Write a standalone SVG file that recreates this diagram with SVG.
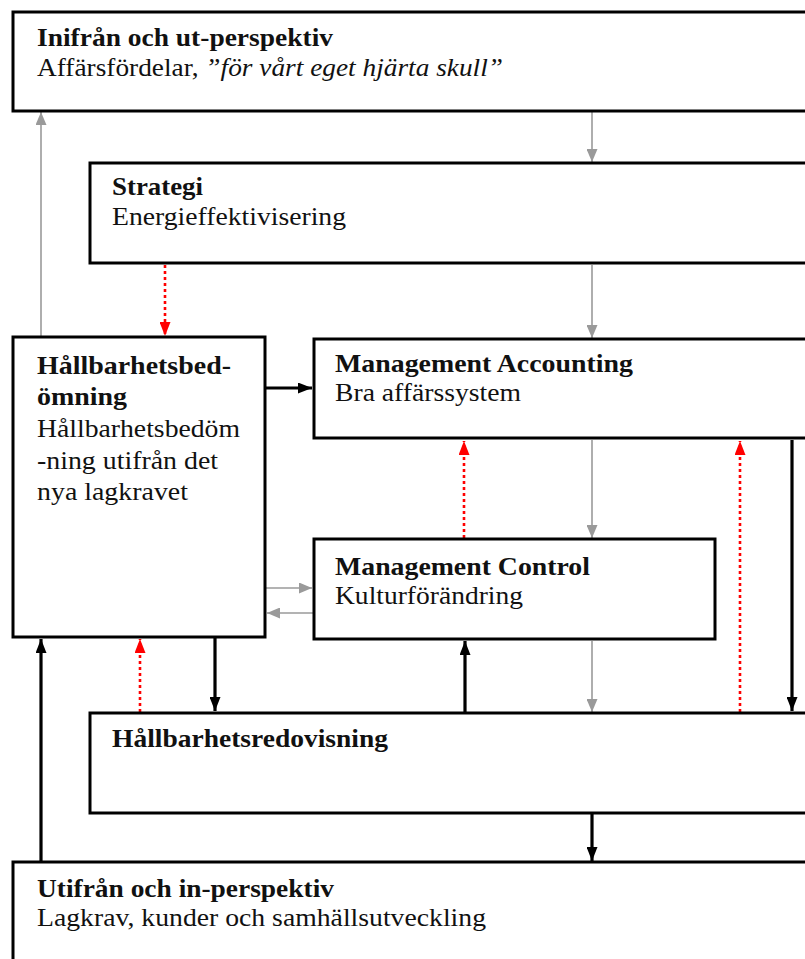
<svg xmlns="http://www.w3.org/2000/svg" width="805" height="959" viewBox="0 0 805 959">
<style>
.box{fill:#fff;stroke:#000;stroke-width:3}
.t{font-family:"Liberation Serif","Times New Roman",serif;font-size:25.5px;fill:#111}
.b{font-weight:bold}
.gray{stroke:#9a9a9a;stroke-width:1.6;fill:none;marker-end:url(#ag)}
.blk{stroke:#000;stroke-width:3.2;fill:none;marker-end:url(#ab)}
.red{stroke:#ff0000;stroke-width:2.6;fill:none;stroke-dasharray:3 3;marker-end:url(#ar)}
</style>
<defs>
<marker id="ag" viewBox="0 0 13 11" refX="13" refY="5.5" markerWidth="13" markerHeight="11" markerUnits="userSpaceOnUse" orient="auto"><path d="M0,0 L13,5.5 L0,11 z" fill="#9a9a9a"/></marker>
<marker id="ab" viewBox="0 0 14 11" refX="14" refY="5.5" markerWidth="14" markerHeight="11" markerUnits="userSpaceOnUse" orient="auto"><path d="M0,0 L14,5.5 L0,11 z" fill="#000"/></marker>
<marker id="ar" viewBox="0 0 14 11" refX="14" refY="5.5" markerWidth="14" markerHeight="11" markerUnits="userSpaceOnUse" orient="auto"><path d="M0,0 L14,5.5 L0,11 z" fill="#ff0000"/></marker>
</defs>
<rect width="805" height="959" fill="#fff"/>

<g id="connectors">
<line class="gray" x1="592" y1="112" x2="592" y2="162"/>
<line class="gray" x1="41" y1="336" x2="41" y2="112"/>
<line class="red" x1="165" y1="265" x2="165" y2="336"/>
<line class="gray" x1="592" y1="265" x2="592" y2="338"/>
<line class="blk" x1="266" y1="388" x2="312" y2="388"/>
<line class="gray" x1="266" y1="588" x2="312" y2="588"/>
<line class="gray" x1="313" y1="613" x2="267" y2="613"/>
<line class="red" x1="464" y1="538" x2="464" y2="441"/>
<line class="gray" x1="592" y1="440" x2="592" y2="538"/>
<line class="red" x1="740" y1="712" x2="740" y2="441"/>
<line class="blk" x1="792" y1="440" x2="792" y2="711"/>
<line class="blk" x1="41" y1="862" x2="41" y2="639"/>
<line class="red" x1="140" y1="712" x2="140" y2="639"/>
<line class="blk" x1="215" y1="638" x2="215" y2="711"/>
<line class="blk" x1="465" y1="712" x2="465" y2="641"/>
<line class="gray" x1="592" y1="641" x2="592" y2="712"/>
<line class="blk" x1="592" y1="814" x2="592" y2="861"/>
</g>

<g id="inifran">
<rect class="box" x="13" y="12" width="810" height="99"/>
<text class="t b" x="37" y="46" textLength="296" lengthAdjust="spacingAndGlyphs">Inifrån och ut-perspektiv</text>
<text class="t" x="37" y="76" textLength="466" lengthAdjust="spacingAndGlyphs">Affärsfördelar, <tspan font-style="italic">”för vårt eget hjärta skull”</tspan></text>
</g>

<g id="strategi">
<rect class="box" x="90" y="163" width="730" height="100"/>
<text class="t b" x="112" y="195" textLength="91" lengthAdjust="spacingAndGlyphs">Strategi</text>
<text class="t" x="112" y="225" textLength="234" lengthAdjust="spacingAndGlyphs">Energieffektivisering</text>
</g>

<g id="hallbarhetsbedomning">
<rect class="box" x="13" y="337" width="252" height="300"/>
<text class="t b" x="37" y="374" textLength="194" lengthAdjust="spacingAndGlyphs">Hållbarhetsbed-</text>
<text class="t b" x="37" y="405" textLength="90" lengthAdjust="spacingAndGlyphs">ömning</text>
<text class="t" x="37" y="437" textLength="203" lengthAdjust="spacingAndGlyphs">Hållbarhetsbedöm</text>
<text class="t" x="37" y="469" textLength="181" lengthAdjust="spacingAndGlyphs">-ning utifrån det</text>
<text class="t" x="37" y="500" textLength="151" lengthAdjust="spacingAndGlyphs">nya lagkravet</text>
</g>

<g id="management-accounting">
<rect class="box" x="314" y="339" width="510" height="99"/>
<text class="t b" x="335" y="372" textLength="298" lengthAdjust="spacingAndGlyphs">Management Accounting</text>
<text class="t" x="335" y="401" textLength="186" lengthAdjust="spacingAndGlyphs">Bra affärssystem</text>
</g>

<g id="management-control">
<rect class="box" x="314" y="539" width="401" height="100"/>
<text class="t b" x="335" y="575" textLength="255" lengthAdjust="spacingAndGlyphs">Management Control</text>
<text class="t" x="335" y="604" textLength="188" lengthAdjust="spacingAndGlyphs">Kulturförändring</text>
</g>

<g id="hallbarhetsredovisning">
<rect class="box" x="90" y="713" width="730" height="100"/>
<text class="t b" x="112" y="747" textLength="276" lengthAdjust="spacingAndGlyphs">Hållbarhetsredovisning</text>
</g>

<g id="utifran">
<rect class="box" x="13" y="862" width="810" height="110"/>
<text class="t b" x="37" y="897" textLength="297" lengthAdjust="spacingAndGlyphs">Utifrån och in-perspektiv</text>
<text class="t" x="37" y="926" textLength="449" lengthAdjust="spacingAndGlyphs">Lagkrav, kunder och samhällsutveckling</text>
</g>
</svg>
